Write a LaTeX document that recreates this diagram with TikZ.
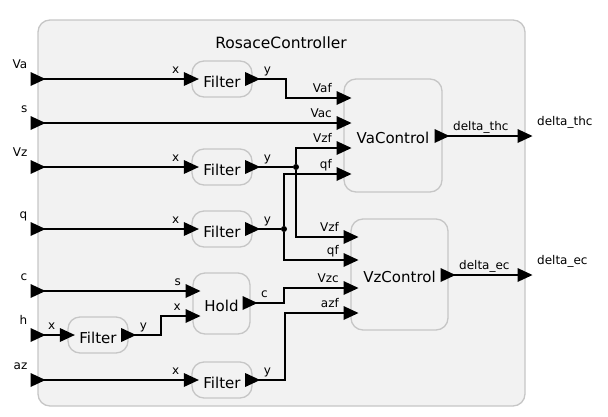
\documentclass[tikz,border=0pt]{standalone}
\usepackage{fontspec}
\setmainfont{DejaVu Sans}
\usepackage{tikz}
\usetikzlibrary{calc}
\usepackage{xcolor}

\definecolor{boxfill}{HTML}{F2F2F2}
\definecolor{boxline}{HTML}{C6C6C6}

\newcommand{\porttip}[1]{\fill (#1) +(-7.5,-7) -- +(7.5,0) -- +(-7.5,7) -- cycle;}

\begin{document}
\begin{tikzpicture}[x=1pt, y=-1pt,
  frame/.style = {draw=boxline, fill=boxfill, rounded corners=12pt, line width=1.3pt},
  blk/.style   = {frame, font=\fontsize{15}{18}\selectfont, inner sep=0pt,
                  text height=16pt, text depth=0pt},
  flt/.style   = {blk, minimum width=60pt, minimum height=36pt},
  wire/.style  = {line width=1.7pt},
  plab/.style  = {font=\fontsize{12}{14}\selectfont, inner sep=0pt},
  lin/.style   = {plab, anchor=base east},
  lout/.style  = {plab, anchor=base west},
  junc/.style  = {circle, fill, inner sep=0pt, minimum size=6pt},
]
\useasboundingbox (0,0) rectangle (608,416);

% ── Container ────────────────────────────────────────────────────────────────
\node[frame, minimum width=487pt, minimum height=386pt] (rc) at (281.5,213) {};
\node[font=\fontsize{15.5}{18}\selectfont, anchor=base] (rcName) at (281,48) {RosaceController};

% ── Blocks ───────────────────────────────────────────────────────────────────
\node[flt] (fVa) at (222,79)  {Filter};
\node[flt] (fVz) at (222,167) {Filter};
\node[flt] (fQ)  at (222,229) {Filter};
\node[flt] (fH)  at (98,335)  {Filter};
\node[flt] (fAz) at (222,380) {Filter};
\node[blk, minimum width=57pt, minimum height=61pt]  (hold)  at (221.5,303.5) {Hold};
\node[blk, minimum width=98pt, minimum height=113pt] (vaCtl) at (393,135.5)   {VaControl};
\node[blk, minimum width=97pt, minimum height=111pt] (vzCtl) at (399.5,274.5) {VzControl};

% ── Ports ────────────────────────────────────────────────────────────────────
\coordinate (inVa) at (38,79);
\coordinate (inS)  at (38,123);
\coordinate (inVz) at (38,167);
\coordinate (inQ)  at (38,229);
\coordinate (inC)  at (38,291);
\coordinate (inH)  at (38,335);
\coordinate (inAz) at (38,380);
\coordinate (outThc) at (525,136);
\coordinate (outEc)  at (525,275);

\coordinate (holdS) at (193,291);
\coordinate (holdX) at (193,316);
\coordinate (holdC) at (250,303);

\coordinate (vaVaf) at (344,98);
\coordinate (vaVac) at (344,123);
\coordinate (vaVzf) at (344,148);
\coordinate (vaQf)  at (344,174);
\coordinate (vaOut) at (442,136);

\coordinate (vzVzf) at (351,237);
\coordinate (vzQf)  at (351,260);
\coordinate (vzVzc) at (351,288);
\coordinate (vzAzf) at (351,313);
\coordinate (vzOut) at (448,275);

\node[junc] (jVz) at (296,167) {};
\node[junc] (jQ)  at (284,229) {};

% ── Wires ────────────────────────────────────────────────────────────────────
\draw[wire] (inVa) -- (fVa.west);
\draw[wire] (fVa.east) -- ++(33,0) |- (vaVaf);
\draw[wire] (inS) -- (vaVac);

\draw[wire] (inVz) -- (fVz.west);
\draw[wire] (fVz.east) -- (jVz);
\draw[wire] (jVz) |- (vaVzf);
\draw[wire] (jVz) |- (vzVzf);

\draw[wire] (inQ) -- (fQ.west);
\draw[wire] (fQ.east) -- (jQ);
\draw[wire] (jQ) |- (vaQf);
\draw[wire] (jQ) |- (vzQf);

\draw[wire] (inC) -- (holdS);
\draw[wire] (inH) -- (fH.west);
\draw[wire] (fH.east) -- ++(32,0) |- (holdX);
\draw[wire] (holdC) -- ++(34,0) |- (vzVzc);

\draw[wire] (inAz) -- (fAz.west);
\draw[wire] (fAz.east) -- ++(32,0) |- (vzAzf);

\draw[wire] (vaOut) -- (outThc);
\draw[wire] (vzOut) -- (outEc);

% ── Port tips ────────────────────────────────────────────────────────────────
\foreach \p in {inVa, inS, inVz, inQ, inC, inH, inAz, outThc, outEc,
                fVa.west, fVa.east, fVz.west, fVz.east, fQ.west, fQ.east,
                fH.west, fH.east, fAz.west, fAz.east,
                holdS, holdX, holdC,
                vaVaf, vaVac, vaVzf, vaQf, vaOut,
                vzVzf, vzQf, vzVzc, vzAzf, vzOut}
  \porttip{\p};

% ── Labels ───────────────────────────────────────────────────────────────────
\foreach \p/\t [count=\i] in {inVa/Va, inS/s, inVz/Vz, inQ/q, inC/c, inH/h, inAz/az}
  \node[lin] (lExt\i) at ($(\p)+(-10.5,-10.5)$) {\t};
\foreach \p/\t [count=\i] in {outThc/delta\_thc, outEc/delta\_ec}
  \node[lout] (lOut\i) at ($(\p)+(12,-10.5)$) {\t};

\foreach \p/\t [count=\i] in {fVa.west/x, fVz.west/x, fQ.west/x, fH.west/x, fAz.west/x,
                              holdS/s, holdX/x,
                              vaVaf/Vaf, vaVac/Vac, vaVzf/Vzf, vaQf/qf,
                              vzVzf/Vzf, vzQf/qf, vzVzc/Vzc, vzAzf/azf}
  \node[lin] (lIn\i) at ($(\p)+(-12,-5.5)$) {\t};
\foreach \p/\t [count=\i] in {fVa.east/y, fVz.east/y, fQ.east/y, fH.east/y, fAz.east/y,
                              holdC/c, vaOut/delta\_thc, vzOut/delta\_ec}
  \node[lout] (lOt\i) at ($(\p)+(11,-5.5)$) {\t};

\end{tikzpicture}
\end{document}
